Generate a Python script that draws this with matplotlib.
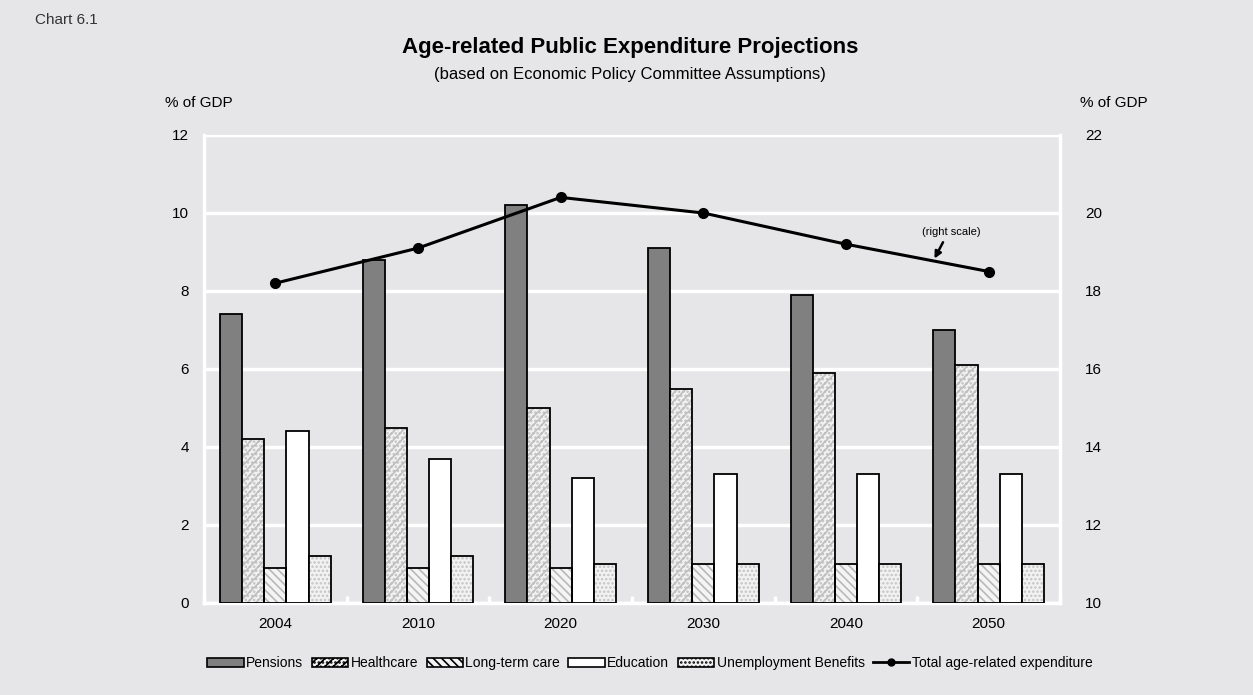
import matplotlib
matplotlib.use("Agg")
import matplotlib.pyplot as plt
import numpy as np
from matplotlib.patches import Patch
from matplotlib.lines import Line2D

plt.rcParams['font.family'] = ['Liberation Sans', 'DejaVu Sans']
plt.rcParams['hatch.linewidth'] = 1.2

years = ['2004', '2010', '2020', '2030', '2040', '2050']
pensions = [7.4, 8.8, 10.2, 9.1, 7.9, 7.0]
healthcare = [4.2, 4.5, 5.0, 5.5, 5.9, 6.1]
long_term_care = [0.9, 0.9, 0.9, 1.0, 1.0, 1.0]
education = [4.4, 3.7, 3.2, 3.3, 3.3, 3.3]
unemployment = [1.2, 1.2, 1.0, 1.0, 1.0, 1.0]
total = [18.2, 19.1, 20.4, 20.0, 19.2, 18.5]

series_names = ['Pensions', 'Healthcare', 'Long-term care', 'Education', 'Unemployment Benefits']
series = [pensions, healthcare, long_term_care, education, unemployment]
fills = ['#808080', '#f2f2f2', '#f4f4f4', 'white', '#f2f2f2']
hatches = [None, '////....', '\\\\\\\\', None, '....']
hatch_cols = [None, '#c0c0c0', '#b8b8b8', None, '#c4c4c4']

bg = '#e6e6e8'
fig = plt.figure(figsize=(12.53, 6.95), dpi=100, facecolor=bg)
ax = fig.add_axes([204/1253, 1-603/695, (1060-204)/1253, (603-135)/695])
ax.set_facecolor(bg)
ax2 = ax.twinx()

x = np.arange(len(years)) + 0.5
w = 0.155
offs = (np.arange(5) - 2) * w
for s, vals, fc, h, hc, off in zip(series_names, series, fills, hatches, hatch_cols, offs):
    if h:
        ax.bar(x + off, vals, w, color=fc, edgecolor=hc, hatch=h, linewidth=0, zorder=3)
        ax.bar(x + off, vals, w, color='none', edgecolor='black', linewidth=1.3, zorder=4)
    else:
        ax.bar(x + off, vals, w, color=fc, edgecolor='black', linewidth=1.3, zorder=3)

ax.set_xlim(0, 6)
ax.set_ylim(0, 12)
ax.set_yticks(range(0, 13, 2))
ax.yaxis.grid(True, color='white', linewidth=2.5, zorder=0)
ax.set_axisbelow(True)
ax.set_xticks(x)
ax.set_xticklabels(years)
ax.tick_params(axis='x', length=0, labelsize=11, pad=10)
ax.set_xticks(np.arange(0, 7), minor=True)
ax.tick_params(axis='x', which='minor', direction='in', length=5, width=2.5, color='white')
ax.tick_params(axis='y', length=0, labelsize=11, pad=11)
for sp in ['left', 'right', 'bottom']:
    ax.spines[sp].set_color('white')
    ax.spines[sp].set_linewidth(2.5)
ax.spines['top'].set_visible(False)

ax2.set_ylim(10, 22)
ax2.set_yticks(range(10, 23, 2))
ax2.tick_params(axis='y', length=0, labelsize=11, pad=18)
for sp in ax2.spines.values():
    sp.set_visible(False)
ax2.plot(x, total, color='black', linewidth=2.2, marker='o', markersize=7, zorder=5)
ax2.annotate('', xy=(5.12, 18.83), xytext=(5.18, 19.25),
             arrowprops=dict(arrowstyle='-|>', color='black', lw=1.8, mutation_scale=10, shrinkA=0, shrinkB=0))
ax2.text(5.24, 19.52, '(right scale)', fontsize=8, ha='center', va='center')

fig.text(35/1253, 1-20/695, 'Chart 6.1', fontsize=11, color='#333333', va='center', ha='left')
fig.text(630/1253, 1-47/695, 'Age-related Public Expenditure Projections', fontsize=16, fontweight='bold', ha='center', va='center')
fig.text(630/1253, 1-75/695, '(based on Economic Policy Committee Assumptions)', fontsize=12, ha='center', va='center')
fig.text(199/1253, 1-103/695, '% of GDP', fontsize=11, ha='center', va='center')
fig.text(1114/1253, 1-103/695, '% of GDP', fontsize=11, ha='center', va='center')

handles = []
for s, fc, h in zip(series_names, fills, hatches):
    handles.append(Patch(facecolor=fc, edgecolor='black', hatch=h, linewidth=1.2, label=s))
handles.append(Line2D([0], [0], color='black', lw=2, marker='o', markersize=5, label='Total age-related expenditure'))
fig.legend(handles=handles, loc='center', bbox_to_anchor=(650/1253, 1-663/695), ncol=6, frameon=False,
           fontsize=10, handlelength=2.6, handletextpad=0.2, columnspacing=0.6, handleheight=0.6)

fig.savefig('out.png', dpi=100, facecolor=bg)
